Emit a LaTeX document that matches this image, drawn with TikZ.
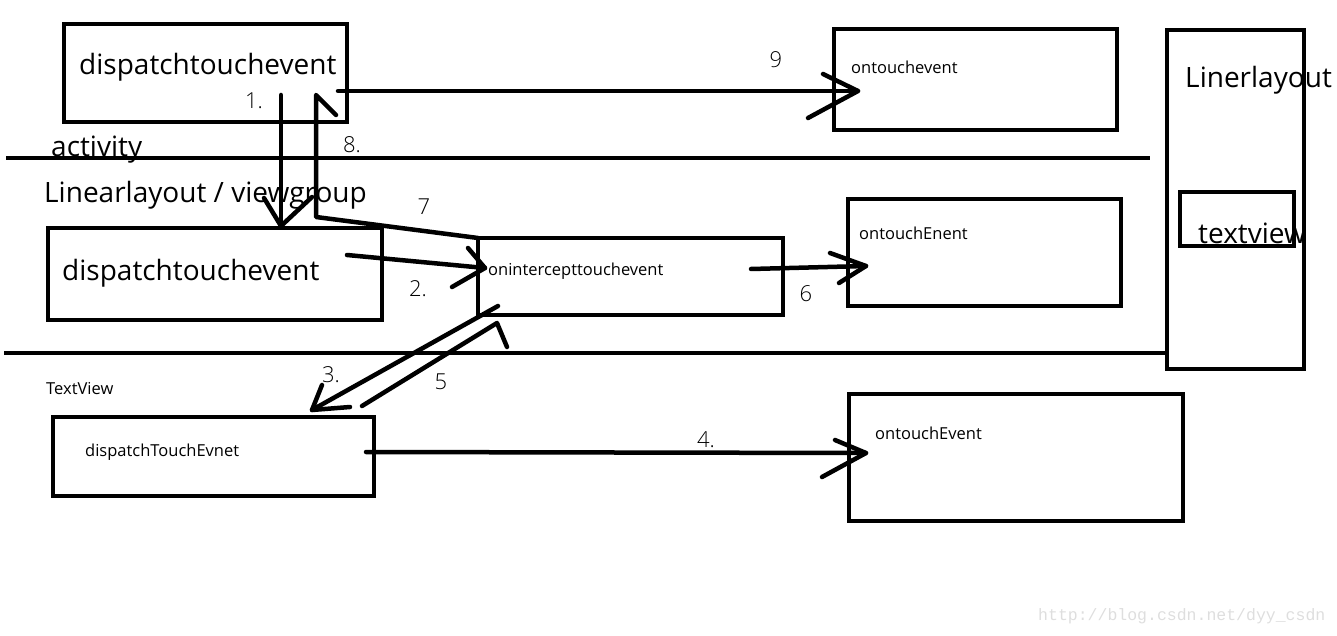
\documentclass[tikz,border=0pt]{standalone}
\usepackage{fontspec}
\setmainfont{Open Sans}
\newfontfamily\wmfont{Liberation Mono}
\newfontfamily\numfont{Open Sans Light}
\begin{document}
\begin{tikzpicture}[x=1pt,y=-1pt,
  box/.style={draw,line width=4pt,anchor=north west,inner sep=0pt,outer sep=0pt},
  big/.style={font=\fontsize{28}{28}\selectfont,anchor=west,inner sep=0pt},
  small/.style={font=\fontsize{16.5}{16.5}\selectfont,anchor=west,inner sep=0pt},
  num/.style={font=\numfont\fontsize{22}{22}\selectfont,inner sep=0pt},
  arr/.style={line width=4.5pt,line cap=round,line join=round},
  sep/.style={line width=4pt}]
\useasboundingbox (0,0) rectangle (1337,636);
% boxes
\node[box,minimum width=283pt,minimum height=98pt] (A) at (64,24) {};
\node[box,minimum width=283pt,minimum height=101pt] (B) at (834,29) {};
\node[box,minimum width=137pt,minimum height=339pt] (L) at (1167,30) {};
\node[box,minimum width=114pt,minimum height=54pt] (T) at (1180,192) {};
\node[box,minimum width=334pt,minimum height=92pt] (C) at (48,228) {};
\node[box,minimum width=305pt,minimum height=77pt] (D) at (478,238) {};
\node[box,minimum width=273pt,minimum height=107pt] (E) at (848,199) {};
\node[box,minimum width=321pt,minimum height=79pt] (F) at (53,417) {};
\node[box,minimum width=334pt,minimum height=127pt] (G) at (849,394) {};
% texts
\node[big] (tA) at (79,67) {dispatchtouchevent};
\node[small] (tB) at (851,67) {ontouchevent};
\node[big] (tL) at (1185,80) {Linerlayout};
\node[big] (tT) at (1198,233) {textview};
\node[big] (tact) at (51,150) {activity};
\node[big] (tlin) at (44,195) {Linearlayout / viewgroup};
\node[big] (tC) at (62,273) {dispatchtouchevent};
\node[small] (tD) at (488,271) {onintercepttouchevent};
\node[small] (tE) at (859,233) {ontouchEnent};
\node[small] (tTV) at (46,389) {TextView};
\node[small] (tF) at (85,452) {dispatchTouchEvnet};
\node[small] (tG) at (875,433) {ontouchEvent};
\node[anchor=west,inner sep=0pt,text=black!13,font=\wmfont\fontsize{16.5}{16.5}\selectfont] (wm) at (1038,616) {http://blog.csdn.net/dyy\_csdn};
% separator lines
\coordinate (s1a) at (6,158); \coordinate (s1b) at (1150,158);
\coordinate (s2a) at (4,353); \coordinate (s2b) at (L.west |- 0,353);
\draw[sep] (s1a) -- (s1b);
\draw[sep] (s2a) -- (s2b);
% arrow 9
\coordinate (a9s) at (338,91); \coordinate (a9e) at (858,91);
\draw[arr] (a9s) -- (a9e);
\draw[arr] (823,74) -- (a9e) -- (808,118);
\node[num] (n9) at (776,60) {9};
% arrow 1
\coordinate (a1s) at (281,95); \coordinate (a1e) at (281,226);
\draw[arr] (a1s) -- (a1e);
\draw[arr] (264,198) -- (a1e) -- (312,197);
\node[num] (n1) at (254,101) {1.};
% arrows 7 and 8
\coordinate (a7b) at (316,217); \coordinate (a8e) at (316,95);
\draw[arr] (D.north west) -- (a7b) -- (a8e) -- (336,115);
\node[num] (n8) at (352,145) {8.};
\node[num] (n7) at (424,207) {7};
% arrow 2
\coordinate (a2s) at (347,255); \coordinate (a2e) at (485,268);
\draw[arr] (a2s) -- (a2e);
\draw[arr] (468,248) -- (a2e) -- (452,287);
\node[num] (n2) at (418,289) {2.};
% arrow 6
\coordinate (a6s) at (751,269); \coordinate (a6e) at (866,266);
\draw[arr] (a6s) -- (a6e);
\draw[arr] (830,253) -- (a6e) -- (839,283);
\node[num] (n6) at (806,294) {6};
% arrow 3
\coordinate (a3s) at (498,306); \coordinate (a3e) at (312,410);
\draw[arr] (a3s) -- (a3e);
\draw[arr] (322,385) -- (a3e) -- (350,407);
\node[num] (n3) at (331,375) {3.};
% arrow 5
\coordinate (a5s) at (362,406); \coordinate (a5e) at (497,323);
\draw[arr] (a5s) -- (a5e) -- (507,347);
\node[num] (n5) at (441,382) {5};
% arrow 4
\coordinate (a4s) at (366,452); \coordinate (a4e) at (866,453);
\draw[arr] (a4s) -- (a4e);
\draw[arr] (835,440) -- (a4e) -- (822,477);
\node[num] (n4) at (706,440) {4.};
\end{tikzpicture}
\end{document}
